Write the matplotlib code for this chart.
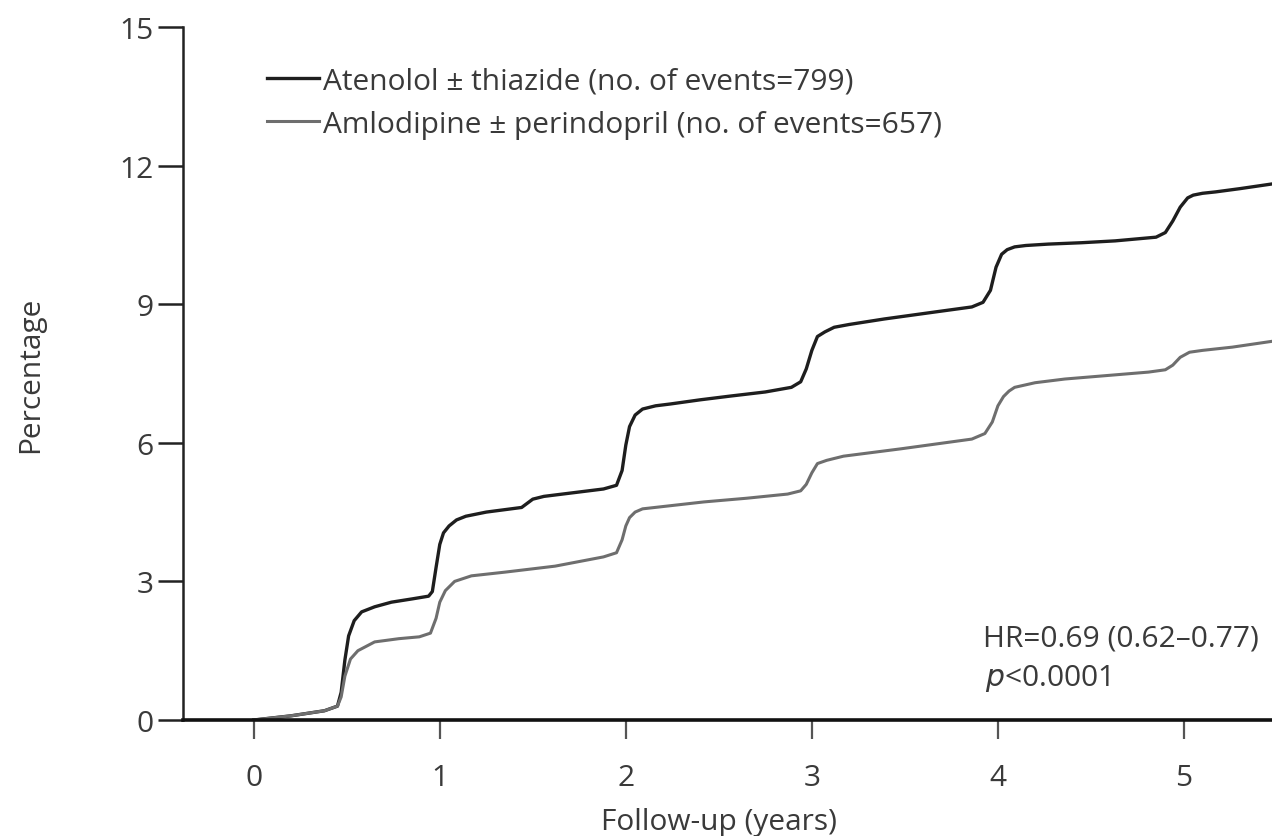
import matplotlib
matplotlib.use('Agg')
import matplotlib.pyplot as plt

# 累積発生率（%）— 図から読み取った値
atenolol_years = [0.0, 0.2, 0.38, 0.45, 0.47, 0.49, 0.51, 0.54, 0.58, 0.65, 0.74, 0.85, 0.94, 0.96,
                  0.98, 1.0, 1.02, 1.05, 1.09, 1.14, 1.25, 1.44, 1.5, 1.56, 1.66, 1.88, 1.95, 1.98,
                  2.0, 2.02, 2.05, 2.09, 2.16, 2.24, 2.4, 2.56, 2.75, 2.89, 2.94, 2.97, 3.0, 3.03,
                  3.07, 3.12, 3.2, 3.39, 3.66, 3.86, 3.92, 3.96, 3.99, 4.02, 4.05, 4.09, 4.15, 4.27,
                  4.45, 4.63, 4.85, 4.9, 4.94, 4.98, 5.02, 5.05, 5.1, 5.17, 5.3, 5.47]
atenolol_pct = [0.0, 0.09, 0.2, 0.3, 0.6, 1.3, 1.82, 2.15, 2.34, 2.45, 2.55, 2.62, 2.68, 2.78,
                3.3, 3.8, 4.05, 4.2, 4.33, 4.41, 4.5, 4.6, 4.78, 4.84, 4.89, 5.0, 5.08, 5.4,
                5.95, 6.35, 6.6, 6.73, 6.8, 6.84, 6.93, 7.01, 7.1, 7.2, 7.32, 7.6, 8.0, 8.3,
                8.4, 8.5, 8.56, 8.68, 8.83, 8.94, 9.04, 9.3, 9.8, 10.08, 10.18, 10.24, 10.27, 10.3,
                10.33, 10.37, 10.45, 10.55, 10.8, 11.1, 11.3, 11.36, 11.4, 11.43, 11.5, 11.6]

amlodipine_years = [0.0, 0.2, 0.38, 0.45, 0.47, 0.49, 0.52, 0.56, 0.65, 0.78, 0.89, 0.95, 0.98,
                    1.0, 1.03, 1.08, 1.17, 1.35, 1.62, 1.88, 1.95, 1.98, 2.0, 2.02, 2.05, 2.09,
                    2.2, 2.42, 2.65, 2.87, 2.94, 2.97, 3.0, 3.03, 3.08, 3.17, 3.48, 3.86, 3.93,
                    3.97, 4.0, 4.03, 4.06, 4.09, 4.2, 4.36, 4.6, 4.81, 4.9, 4.94, 4.98, 5.03,
                    5.1, 5.26, 5.48]
amlodipine_pct = [0.0, 0.09, 0.2, 0.3, 0.5, 0.95, 1.32, 1.5, 1.69, 1.76, 1.8, 1.88, 2.2,
                  2.55, 2.8, 3.0, 3.12, 3.2, 3.33, 3.53, 3.62, 3.9, 4.2, 4.38, 4.5, 4.57,
                  4.62, 4.72, 4.8, 4.89, 4.96, 5.1, 5.35, 5.55, 5.62, 5.71, 5.87, 6.08, 6.2,
                  6.45, 6.8, 7.0, 7.12, 7.2, 7.3, 7.38, 7.46, 7.53, 7.58, 7.68, 7.85, 7.96,
                  8.0, 8.07, 8.2]

x_ticks = [0, 1, 2, 3, 4, 5]
y_ticks = [0, 3, 6, 9, 12, 15]

labels = ['Atenolol ± thiazide (no. of events=799)',
          'Amlodipine ± perindopril (no. of events=657)']

plt.rcParams['font.family'] = ['Open Sans', 'DejaVu Sans']
text_color = '#3a3a3a'
fs = 21.5

fig = plt.figure(figsize=(12.72, 8.37), dpi=100)
ax = fig.add_axes([0.1439, 0.1386, 0.86, 0.828])

ax.plot(atenolol_years, atenolol_pct, color='#1e1e1e', lw=2.4, label=labels[0],
        solid_joinstyle='round')
ax.plot(amlodipine_years, amlodipine_pct, color='#6e6e6e', lw=2.2, label=labels[1],
        solid_joinstyle='round')

ax.set_xlim(-0.38, 5.5)
ax.set_ylim(0, 15)
ax.set_xticks(x_ticks)
ax.set_yticks(y_ticks)

for s in ['top', 'right']:
    ax.spines[s].set_visible(False)
ax.spines['left'].set_linewidth(1.8)
ax.spines['bottom'].set_linewidth(2.6)
ax.spines['left'].set_color('#222222')
ax.spines['bottom'].set_color('#111111')

ax.tick_params(axis='y', direction='out', length=18, width=1.8, pad=3,
               labelsize=fs, labelcolor=text_color, color='#222222')
ax.tick_params(axis='x', direction='out', length=14, width=1.6, pad=17,
               labelsize=fs, labelcolor=text_color, color='#555555')

ax.set_xlabel('Follow-up (years)', fontsize=fs, color=text_color)
ax.xaxis.set_label_coords(0.49, -0.126)
ax.set_ylabel('Percentage', fontsize=fs, color=text_color)
ax.yaxis.set_label_coords(-0.126, 0.5)

leg = ax.legend(loc='upper left', bbox_to_anchor=(0.052, 0.982), frameon=False,
                fontsize=fs, handlelength=1.75, handletextpad=0.12, labelspacing=0.48)
for t in leg.get_texts():
    t.set_color(text_color)

ax.text(0.731, 0.118, 'HR=0.69 (0.62–0.77)', transform=ax.transAxes,
        fontsize=fs, color=text_color, ha='left', va='center')
ax.text(0.733, 0.062, r'$\it{p}$<0.0001', transform=ax.transAxes,
        fontsize=fs, color=text_color, ha='left', va='center')

plt.savefig('out.png', dpi=100)
